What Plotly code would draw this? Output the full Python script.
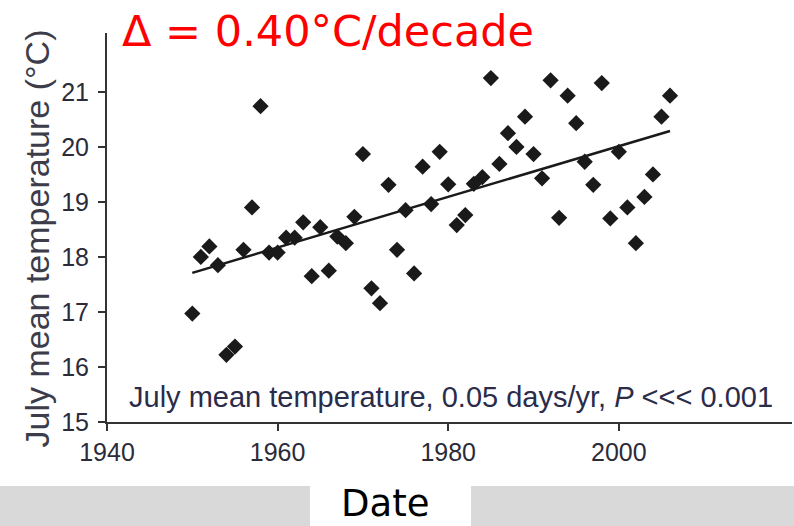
import plotly.graph_objects as go

years = list(range(1950, 2007))
temps = [16.97, 18.00, 18.19, 17.85, 16.22, 16.37, 18.13, 18.90, 20.74, 18.08,
         18.08, 18.35, 18.35, 18.63, 17.65, 18.54, 17.75, 18.37, 18.25, 18.73,
         19.87, 17.43, 17.16, 19.31, 18.13, 18.85, 17.70, 19.64, 18.96, 19.91,
         19.32, 18.58, 18.76, 19.33, 19.45, 21.25, 19.69, 20.25, 20.00, 20.55,
         19.87, 19.43, 21.21, 18.71, 20.93, 20.43, 19.73, 19.31, 21.16, 18.70,
         19.91, 18.90, 18.25, 19.09, 19.50, 20.55, 20.93]

trend_years = [1950, 2006]
trend_values = [17.71, 20.29]

x_ticks = [1940, 1960, 1980, 2000]
y_ticks = [15, 16, 17, 18, 19, 20, 21]

sans = "Liberation Sans, Arial, sans-serif"
comic = "Comic Sans MS, DejaVu Sans, sans-serif"

L, R, T, B = 107, 2, 33, 104
PW, PH = 794 - L - R, 526 - T - B

def px(xp):
    return (xp - L) / PW

def py(yp):
    return (526 - B - yp) / PH

fig = go.Figure()
fig.add_trace(go.Scatter(x=years, y=temps, mode="markers",
                         marker=dict(symbol="diamond", size=12.5, color="#1a1a1a"),
                         showlegend=False, hoverinfo="x+y"))
fig.add_trace(go.Scatter(x=trend_years, y=trend_values, mode="lines",
                         line=dict(color="#1a1a1a", width=2.5),
                         showlegend=False, hoverinfo="skip"))

fig.update_layout(
    width=794, height=526,
    margin=dict(l=L, r=R, t=T, b=B, autoexpand=False),
    paper_bgcolor="white", plot_bgcolor="white",
    xaxis=dict(range=[1940, 2020.3], tickvals=x_ticks, showgrid=False, zeroline=False,
               showline=True, linecolor="#333333", linewidth=2,
               ticks="outside", ticklen=7, tickwidth=2, tickcolor="#333333",
               tickfont=dict(family=sans, size=25, color="#2b2b3a")),
    yaxis=dict(range=[15, 22.07], tickvals=y_ticks, showgrid=False, zeroline=False,
               showline=True, linecolor="#333333", linewidth=2,
               ticks="outside", ticklen=7, tickwidth=2, tickcolor="#333333",
               ticklabelstandoff=4,
               tickfont=dict(family=sans, size=25, color="#2b2b3a")),
    shapes=[
        dict(type="rect", xref="paper", yref="paper", x0=px(0), x1=px(310),
             y0=py(526), y1=py(486), fillcolor="#d9d9d9", line=dict(width=0), layer="below"),
        dict(type="rect", xref="paper", yref="paper", x0=px(471), x1=px(794),
             y0=py(526), y1=py(486), fillcolor="#d9d9d9", line=dict(width=0), layer="below"),
    ],
    annotations=[
        dict(text="Δ = 0.40°C/decade", xref="paper", yref="paper",
             x=px(120), y=py(31), xanchor="left", yanchor="middle",
             showarrow=False, font=dict(family=comic, size=43, color="#ff0000")),
        dict(text="Date", xref="paper", yref="paper",
             x=px(385), y=py(503), xanchor="center", yanchor="middle",
             showarrow=False, font=dict(family=comic, size=37, color="#000000")),
        dict(text="July mean temperature (°C)", xref="paper", yref="paper",
             x=px(37), y=py(238.5), xanchor="center", yanchor="middle",
             textangle=-90, showarrow=False,
             font=dict(family=sans, size=34, color="#3c3c4a")),
        dict(text="July mean temperature, 0.05 days/yr, <i>P</i> <<< 0.001",
             x=1942.4, y=15.45, xref="x", yref="y", xanchor="left", yanchor="middle",
             showarrow=False, font=dict(family=sans, size=29, color="#2b2b4a")),
    ],
)

fig.write_html("out.html", config={"displayModeBar": False},
               post_script="document.body.style.margin='0';document.body.style.overflow='hidden';")
